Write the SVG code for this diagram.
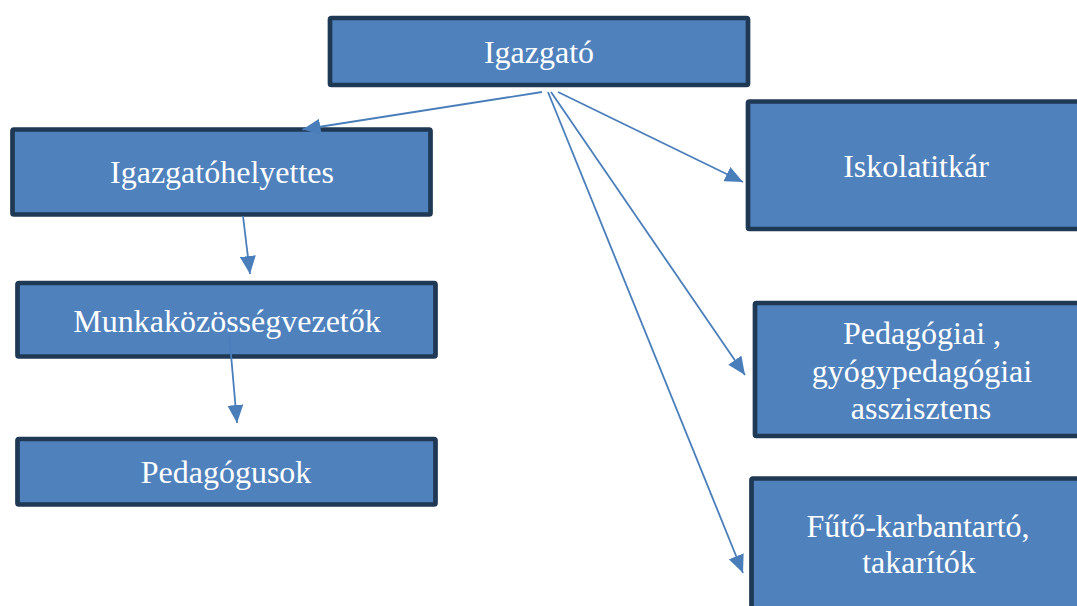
<svg xmlns="http://www.w3.org/2000/svg" width="1077" height="606" viewBox="0 0 1077 606">
<defs>
<style>
.box{fill:#4F81BD;stroke:#1F3853;stroke-width:4.7;}
.lbl{font-family:"Liberation Serif","Times New Roman",serif;font-size:32px;fill:#FFFFFF;text-anchor:middle;}
.con{stroke:#4A7EBB;stroke-width:1.8;fill:none;marker-end:url(#ah);}
</style>
<marker id="ah" viewBox="0 0 18 16" refX="18" refY="8" markerWidth="18" markerHeight="16" markerUnits="userSpaceOnUse" orient="auto">
<path d="M0,0 L18,8 L0,16 z" fill="#4A7EBB"/>
</marker>
</defs>
<rect width="1077" height="606" fill="#FFFFFF"/>
<g id="igazgato">
<rect class="box" x="330" y="18" width="418" height="67" rx="1.5"/>
<text class="lbl" x="539" y="63">Igazgató</text>
</g>
<g id="igazgatohelyettes">
<rect class="box" x="12.5" y="129.5" width="418" height="85" rx="1.5"/>
<text class="lbl" x="222" y="183">Igazgatóhelyettes</text>
</g>
<g id="munkakozossegvezetok">
<rect class="box" x="17.5" y="283" width="418" height="73.5" rx="1.5"/>
<text class="lbl" x="227" y="332">Munkaközösségvezetők</text>
</g>
<g id="pedagogusok">
<rect class="box" x="17.5" y="439" width="418" height="65.5" rx="1.5"/>
<text class="lbl" x="226" y="483">Pedagógusok</text>
</g>
<g id="iskolatitkar">
<rect class="box" x="748" y="101.5" width="340" height="127.5" rx="1.5"/>
<text class="lbl" x="916" y="177">Iskolatitkár</text>
</g>
<g id="asszisztens">
<rect class="box" x="755" y="303" width="335" height="133" rx="1.5"/>
<text class="lbl" x="922" y="344">Pedagógiai ,</text>
<text class="lbl" x="922" y="381.5">gyógypedagógiai</text>
<text class="lbl" x="921" y="418.5">asszisztens</text>
</g>
<g id="futo">
<rect class="box" x="751.5" y="478.5" width="335" height="140" rx="1.5"/>
<text class="lbl" x="918" y="537">Fűtő-karbantartó,</text>
<text class="lbl" x="919" y="573">takarítók</text>
</g>
<g id="connectors">
<line class="con" x1="542" y1="92" x2="302.5" y2="129.5"/>
<line class="con" x1="558" y1="92" x2="743" y2="182"/>
<line class="con" x1="551" y1="92" x2="745" y2="375"/>
<line class="con" x1="548" y1="92" x2="743" y2="573"/>
<line class="con" x1="243" y1="216" x2="250" y2="274"/>
<line class="con" x1="229" y1="332" x2="237" y2="423"/>
</g>
</svg>
